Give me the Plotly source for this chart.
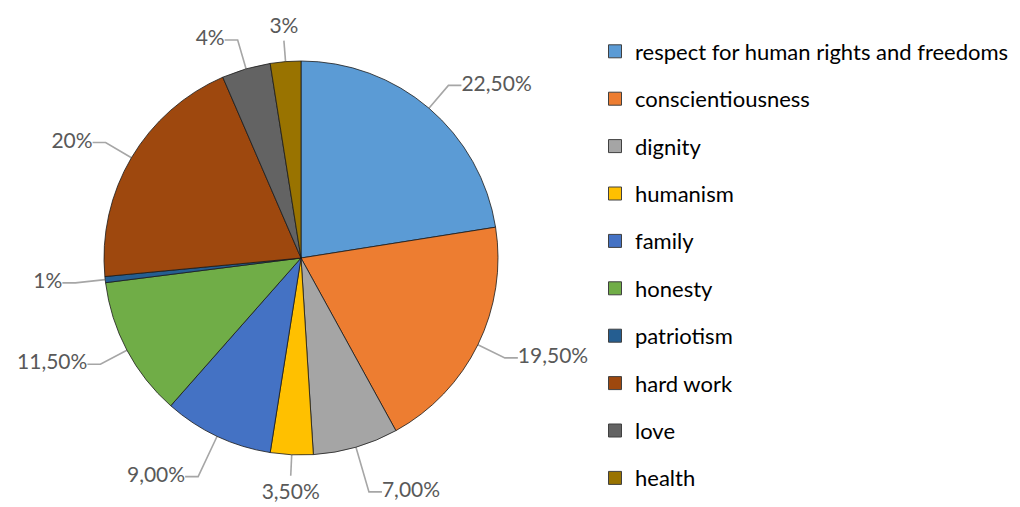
import math
import plotly.graph_objects as go

categories = ["respect for human rights and freedoms", "conscientiousness", "dignity",
              "humanism", "family", "honesty", "patriotism", "hard work", "love", "health"]
values = [22.5, 19.5, 7.0, 3.5, 9.0, 11.5, 0.5, 20.0, 4.0, 2.5]
value_labels = ["22,50%", "19,50%", "7,00%", "3,50%", "9,00%", "11,50%", "1%", "20%", "4%", "3%"]
colors = ["#5B9BD5", "#ED7D31", "#A5A5A5", "#FFC000", "#4472C4",
          "#70AD47", "#255E91", "#9E480E", "#636363", "#997300"]

# the page body adds an 8px offset; the figure is sized to fit the window
W, H = 1012, 499
CX, CY, R = 293, 250, 197
FONT = "Lato"

fig = go.Figure()

fig.add_trace(go.Pie(
    values=values, labels=categories, sort=False, direction="clockwise", rotation=0,
    marker=dict(colors=colors, line=dict(color="#1a1a1a", width=0.8)),
    textinfo="none", hoverinfo="label+percent", showlegend=False,
    domain=dict(x=[(CX - R) / W, (CX + R) / W], y=[(H - CY - R) / H, (H - CY + R) / H]),
))

# leader lines + labels computed from slice angles
total = sum(values)
cum = 0.0
lx, ly, tx, ty, tpos = [], [], [], [], []
for v in values:
    mid = (cum + v / 2) / total * 2 * math.pi
    cum += v
    ux, uy = math.sin(mid), -math.cos(mid)
    x0, y0 = CX + R * ux, CY + R * uy
    if abs(ux) > 0.2:
        L = 30 + 36 * max(0.0, uy - 0.5)
        x1, y1 = CX + (R + L) * ux, CY + (R + L) * uy
        s = 1 if ux > 0 else -1
        x2, y2 = x1 + 13 * s, y1
        lx += [x0, x1, x2, None]
        ly += [y0, y1, y2, None]
        tx.append(x2)
        ty.append(y2)
        tpos.append("middle right" if s > 0 else "middle left")
    else:
        L = 21
        x1, y1 = CX + (R + L) * ux, CY + (R + L) * uy
        lx += [x0, x1, None]
        ly += [y0, y1, None]
        tx.append(x1)
        ty.append(y1 + (7 if uy > 0 else -2))
        tpos.append("top center" if uy < 0 else "bottom center")

fig.add_trace(go.Scatter(x=lx, y=ly, mode="lines", line=dict(color="#A6A6A6", width=1.6),
                         hoverinfo="skip", showlegend=False))
fig.add_trace(go.Scatter(x=tx, y=ty, mode="text", text=value_labels, textposition=tpos,
                         textfont=dict(family=FONT, size=21, color="#595959"),
                         hoverinfo="skip", showlegend=False, cliponaxis=False))

for i, (c, col) in enumerate(zip(categories, colors)):
    fig.add_trace(go.Scatter(x=[None], y=[None], mode="markers", name=c, legendgroup=str(i),
                             marker=dict(symbol="square", size=13, color=col,
                                         line=dict(color="#404040", width=1))))

fig.update_layout(
    width=W, height=H, margin=dict(l=0, r=0, t=0, b=0),
    paper_bgcolor="white", plot_bgcolor="white",
    xaxis=dict(range=[0, W], visible=False, fixedrange=True, domain=[0, 1]),
    yaxis=dict(range=[H, 0], visible=False, fixedrange=True, domain=[0, 1]),
    font=dict(family=FONT, color="#000000"),
    legend=dict(x=587 / W, y=1 - 22.5 / H, xanchor="left", yanchor="top",
                font=dict(family=FONT, size=22, color="#000000"),
                tracegroupgap=15.8, itemwidth=30, bgcolor="rgba(0,0,0,0)"),
    showlegend=True,
)

fig.write_html("out.html")
